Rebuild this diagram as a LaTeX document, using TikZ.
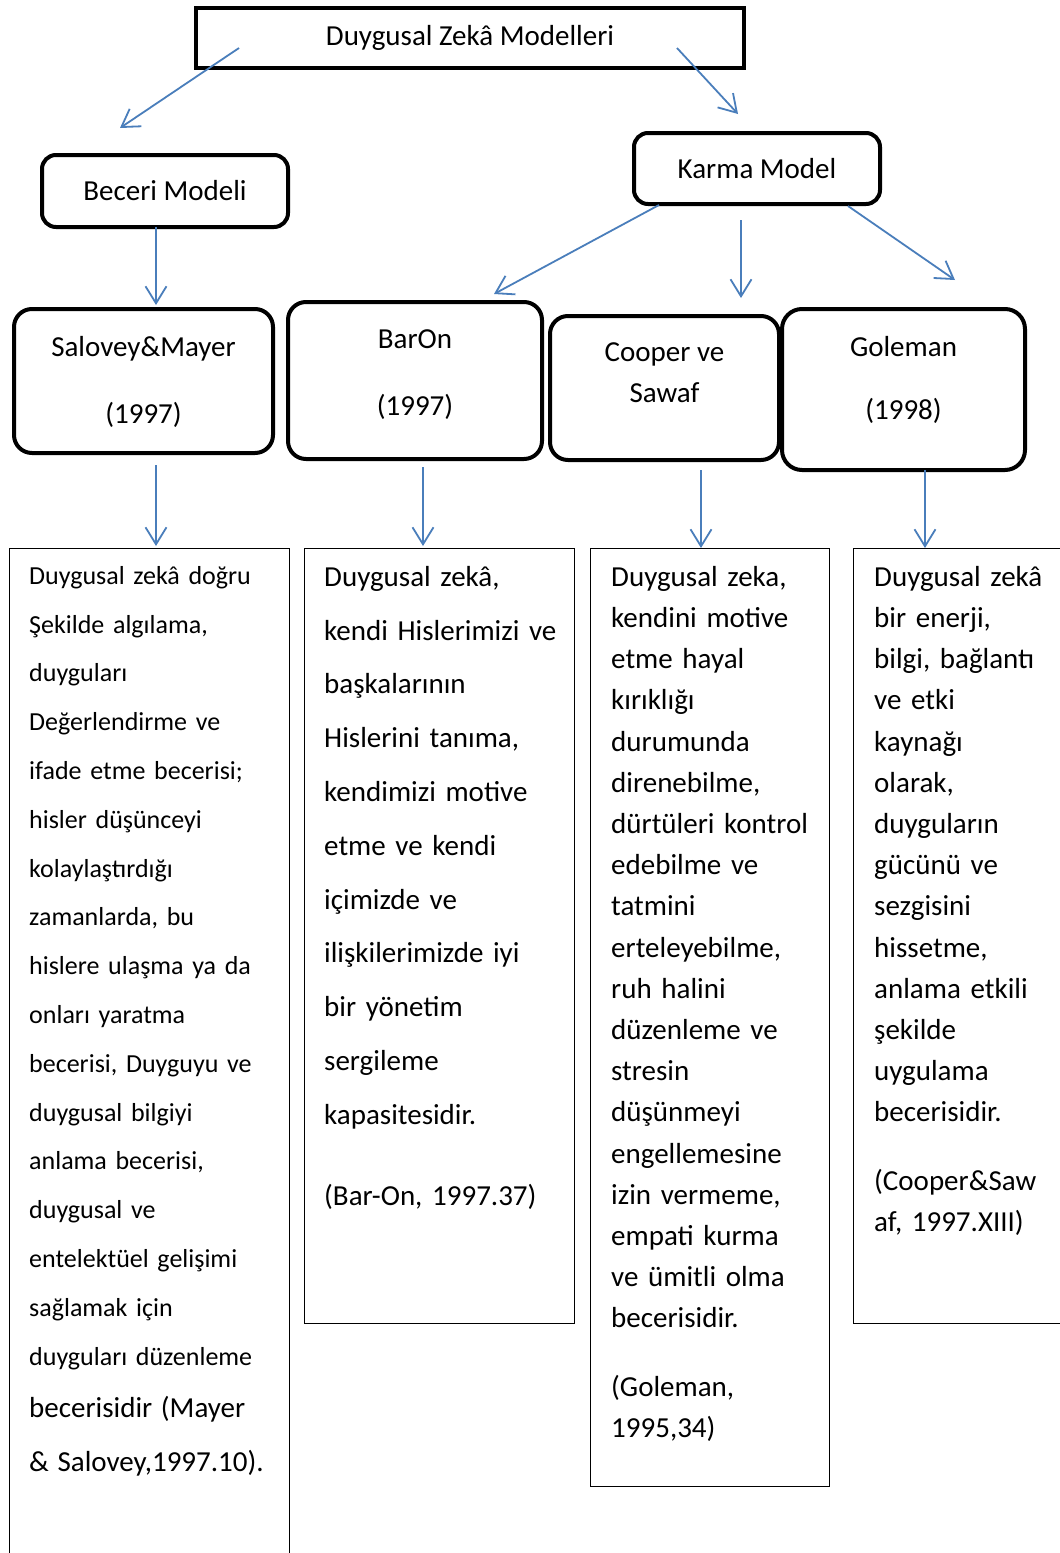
\documentclass[tikz,border=0pt]{standalone}
\usepackage{fontspec}
\setmainfont{Carlito}
\usetikzlibrary{positioning, arrows.meta}
\setlength{\parindent}{0pt}
\frenchspacing
\definecolor{okmavi}{RGB}{74,126,187}
\tikzset{
  ok/.style={-{Straight Barb[length=17pt,width=21pt]}, draw=okmavi, line width=1.8pt},
  kutu/.style={draw, line width=4pt, rounded corners=14pt, inner sep=0pt},
  cerceve/.style={draw, line width=1.2pt, anchor=north west, inner sep=0pt},
  baslik/.style={font=\fontsize{29}{41}\selectfont, align=center, inner sep=0pt},
  metin/.style={anchor=north west, inner sep=0pt, text width=300pt, align=left,
    font=\fontsize{29}{41.2}\selectfont}
}

\begin{document}
\begin{tikzpicture}[x=1pt, y=-1pt]
  \useasboundingbox (0,0) rectangle (1060,1553);
  \clip (0,0) rectangle (1060,1553);

  % ust kutular
  \node[kutu, rounded corners=0pt, minimum width=548pt, minimum height=60pt, baslik] (dzm) at (470,38) {Duygusal Zekâ Modelleri};
  \node[kutu, minimum width=246pt, minimum height=72pt, baslik] (beceri) at (165,191) {Beceri Modeli};
  \node[kutu, minimum width=246pt, minimum height=71pt, baslik] (karma) at (757,168.5) {Karma Model};

  % modeller
  \node[kutu, rounded corners=18pt, minimum width=259pt, minimum height=144pt] (salovey) at (143.5,381) {};
  \node[kutu, rounded corners=18pt, minimum width=254pt, minimum height=157pt] (baron) at (415,380.5) {};
  \node[kutu, rounded corners=18pt, minimum width=229pt, minimum height=144pt] (cooper) at (664.5,388) {};
  \node[kutu, rounded corners=20pt, minimum width=243pt, minimum height=161pt] (goleman) at (903.5,389.5) {};
  \node[baslik] (salovey-y) at (143.5,382) {Salovey\&Mayer\\[26pt](1997)};
  \node[baslik] (baron-y) at (415,375) {BarOn\\[26pt](1997)};
  \node[baslik] (cooper-y) at (664.5,373) {Cooper ve\\Sawaf};
  \node[baslik] (goleman-y) at (903.5,379.5) {Goleman\\[22pt](1998)};

  % tanim kutulari
  \node[cerceve, minimum width=280pt, minimum height=1060pt] (salovey-k) at (9,548) {};
  \node[cerceve, minimum width=270pt, minimum height=775pt] (baron-k) at (304,548) {};
  \node[cerceve, minimum width=239pt, minimum height=938pt] (cooper-k) at (590,548) {};
  \node[cerceve, minimum width=260pt, minimum height=775pt] (goleman-k) at (853,548) {};

  \node[metin, font=\fontsize{26}{48.8}\selectfont] (salovey-m) at (29,566) {Duygusal zekâ doğru\\
    Şekilde algılama,\\ duyguları\\ Değerlendirme ve\\ ifade etme becerisi;\\
    hisler düşünceyi\\ kolaylaştırdığı\\ zamanlarda, bu\\ hislere ulaşma ya da\\
    onları yaratma\\ becerisi, Duyguyu ve\\ duygusal bilgiyi\\ anlama becerisi,\\
    duygusal ve\\ entelektüel gelişimi\\ sağlamak için\\ duyguları düzenleme\par
    \fontsize{29}{52}\selectfont becerisidir (Mayer\\[6pt] \& Salovey,1997.10).};
  \node[metin, font=\fontsize{29}{53.8}\selectfont] (baron-m) at (324,566) {Duygusal zekâ,\\
    kendi Hislerimizi ve\\ başkalarının\\ Hislerini tanıma,\\ kendimizi motive\\
    etme ve kendi\\ içimizde ve\\ ilişkilerimizde iyi\\ bir yönetim\\ sergileme\\
    kapasitesidir.\\[27pt] (Bar-On, 1997.37)};
  \node[metin] (cooper-m) at (611,566) {Duygusal zeka,\\ kendini motive\\ etme hayal\\
    kırıklığı\\ durumunda\\ direnebilme,\\ dürtüleri kontrol\\ edebilme ve\\ tatmini\\
    erteleyebilme,\\ ruh halini\\ düzenleme ve\\ stresin\\ düşünmeyi\\ engellemesine\\
    izin vermeme,\\ empati kurma\\ ve ümitli olma\\ becerisidir.\\[27pt] (Goleman,\\ 1995,34)};
  \node[metin] (goleman-m) at (874,566) {Duygusal zekâ\\ bir enerji,\\ bilgi, bağlantı\\
    ve etki\\ kaynağı\\ olarak,\\ duyguların\\ gücünü ve\\ sezgisini\\ hissetme,\\
    anlama etkili\\ şekilde\\ uygulama\\ becerisidir.\\[27pt] (Cooper\&Saw\\ af, 1997.XIII)};

  % ok uclari
  \coordinate (dzm-b1) at (239,48);   \coordinate (beceri-u) at (120,128);
  \coordinate (dzm-b2) at (677,48);   \coordinate (karma-u) at (738,114);
  \coordinate (beceri-b) at (156,227); \coordinate (salovey-u) at (156,305);
  \coordinate (karma-b1) at (659,205); \coordinate (baron-u) at (494,294);
  \coordinate (karma-b2) at (741,220); \coordinate (cooper-u) at (741,298);
  \coordinate (karma-b3) at (848,206); \coordinate (goleman-u) at (955,280);
  \coordinate (salovey-b) at (156,465); \coordinate (salovey-ku) at (156,546);
  \coordinate (baron-b) at (423,467);  \coordinate (baron-ku) at (423,546);
  \coordinate (cooper-b) at (701,470); \coordinate (cooper-ku) at (701,548);
  \coordinate (goleman-b) at (925,470); \coordinate (goleman-ku) at (925,548);

  \draw[ok] (dzm-b1) -- (beceri-u);
  \draw[ok] (dzm-b2) -- (karma-u);
  \draw[ok] (beceri-b) -- (salovey-u);
  \draw[ok] (karma-b1) -- (baron-u);
  \draw[ok] (karma-b2) -- (cooper-u);
  \draw[ok] (karma-b3) -- (goleman-u);
  \draw[ok] (salovey-b) -- (salovey-ku);
  \draw[ok] (baron-b) -- (baron-ku);
  \draw[ok] (cooper-b) -- (cooper-ku);
  \draw[ok] (goleman-b) -- (goleman-ku);
\end{tikzpicture}
\end{document}
